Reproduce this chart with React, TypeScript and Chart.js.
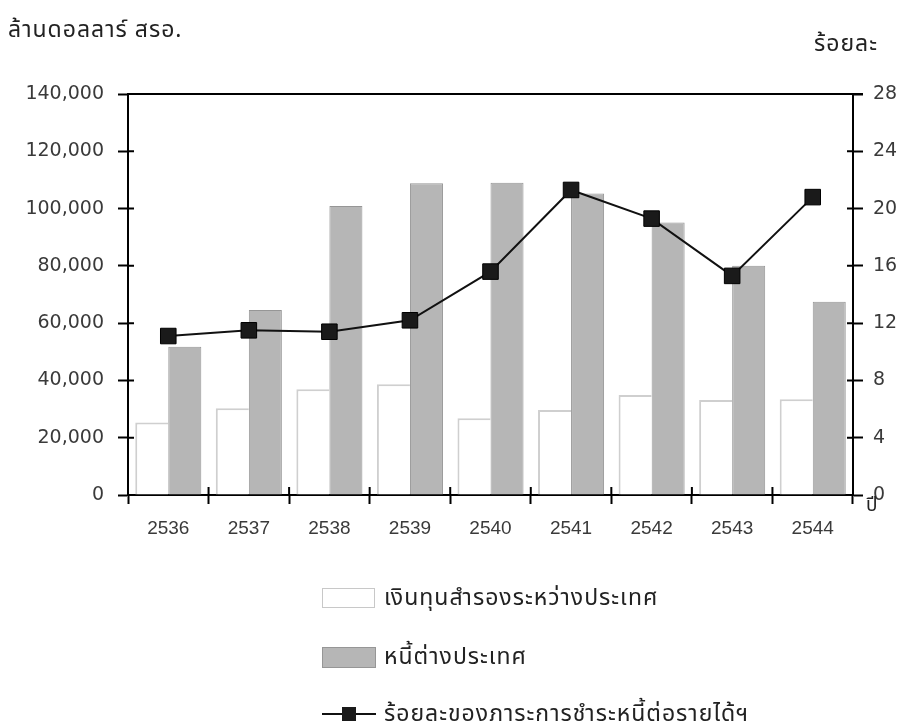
import React, { useEffect, useRef } from 'react';
import { Chart, registerables } from 'chart.js';

Chart.register(...registerables);

const years = ['2536', '2537', '2538', '2539', '2540', '2541', '2542', '2543', '2544'];
const reserves = [25300, 30300, 36900, 38700, 26800, 29700, 34900, 33200, 33400];
const debt = [51800, 64600, 100900, 108800, 109000, 105300, 95100, 80000, 67500];
const ratio = [11.1, 11.5, 11.4, 12.2, 15.6, 21.3, 19.3, 15.3, 20.8];

const leftTitle = 'ล้านดอลลาร์ สรอ.';
const rightTitle = 'ร้อยละ';
const xTitle = 'ปี';
const legendLabels = [
  'เงินทุนสำรองระหว่างประเทศ',
  'หนี้ต่างประเทศ',
  'ร้อยละของภาระการชำระหนี้ต่อรายได้ฯ',
];

const thaiFont = '"Noto Sans Thai", "Noto Sans Thai UI", Loma, Garuda, "Tlwg Typo", "DejaVu Sans", sans-serif';

const framePlugin = {
  id: 'frame',
  afterDatasetsDraw(chart: any) {
    const { ctx, chartArea } = chart;
    const { left, right, top, bottom } = chartArea;
    ctx.save();
    ctx.strokeStyle = '#000';
    ctx.lineWidth = 2;
    ctx.beginPath();
    ctx.moveTo(left, top);
    ctx.lineTo(right + 10, top);
    ctx.stroke();
    const ys = chart.scales.y;
    const y1 = chart.scales.y1;
    const xs = chart.scales.x;
    ctx.beginPath();
    ys.ticks.forEach((t: any) => {
      const p = ys.getPixelForValue(t.value);
      ctx.moveTo(left, p);
      ctx.lineTo(left + 6, p);
    });
    y1.ticks.forEach((t: any) => {
      const p = y1.getPixelForValue(t.value);
      ctx.moveTo(right - 6, p);
      ctx.lineTo(right, p);
    });
    const step = xs.getPixelForTick(1) - xs.getPixelForTick(0);
    for (let i = 0; i <= years.length; i++) {
      const p = xs.getPixelForTick(0) - step / 2 + i * step;
      ctx.moveTo(p, bottom);
      ctx.lineTo(p, bottom - 8);
    }
    ctx.stroke();
    ctx.restore();
  },
};

export default function App() {
  const ref = useRef<HTMLCanvasElement>(null);

  useEffect(() => {
    if (!ref.current) return;
    const chart = new Chart(ref.current, {
      type: 'bar',
      data: {
        labels: years,
        datasets: [
          {
            type: 'line',
            label: legendLabels[2],
            data: ratio,
            yAxisID: 'y1',
            borderColor: '#111',
            borderWidth: 2,
            pointStyle: 'rect',
            pointRadius: 11,
            pointBackgroundColor: '#1a1a1a',
            pointBorderColor: '#000',
            pointBorderWidth: 1,
            tension: 0,
            order: 0,
          } as any,
          {
            label: legendLabels[0],
            data: reserves,
            yAxisID: 'y',
            backgroundColor: '#ffffff',
            borderColor: '#cfcfcf',
            borderWidth: { top: 2, left: 2, right: 0, bottom: 0 },
            order: 1,
          },
          {
            label: legendLabels[1],
            data: debt,
            yAxisID: 'y',
            backgroundColor: '#b6b6b6',
            borderColor: '#969696',
            borderWidth: { top: 1, left: 1, right: 1, bottom: 0 },
            order: 1,
          },
        ],
      },
      options: {
        responsive: false,
        animation: false,
        layout: { padding: { top: 94, bottom: 187, left: 0, right: 0 } },
        plugins: {
          legend: { display: false },
          tooltip: { enabled: false },
          title: { display: false },
        },
        datasets: { bar: { barPercentage: 1, categoryPercentage: 0.82 } },
        scales: {
          x: {
            grid: {
              offset: true,
              drawOnChartArea: false,
              drawTicks: true,
              tickLength: 9,
              tickWidth: 2,
              tickColor: '#000',
            },
            border: { display: true, width: 2, color: '#000' },
            ticks: {
              font: { family: '"Liberation Sans", Arial', size: 19 },
              color: '#3a3a3a',
              padding: 13,
            },
            afterFit: (s: any) => {
              s.height = 45;
            },
          },
          y: {
            position: 'left',
            min: 0,
            max: 140000,
            grid: {
              drawOnChartArea: false,
              drawTicks: true,
              tickLength: 10,
              tickWidth: 2,
              tickColor: '#000',
            },
            border: { display: true, width: 2, color: '#000' },
            ticks: {
              stepSize: 20000,
              font: { family: '"DejaVu Sans"', size: 19 },
              color: '#3a3a3a',
              padding: 14,
              callback: (v: any) => Number(v).toLocaleString('en-US'),
            },
            afterFit: (s: any) => {
              s.width = 128;
            },
          },
          y1: {
            position: 'right',
            min: 0,
            max: 28,
            grid: {
              drawOnChartArea: false,
              drawTicks: true,
              tickLength: 10,
              tickWidth: 2,
              tickColor: '#000',
            },
            border: { display: true, width: 2, color: '#000' },
            ticks: {
              stepSize: 4,
              font: { family: '"DejaVu Sans"', size: 19 },
              color: '#3a3a3a',
              padding: 10,
            },
            afterFit: (s: any) => {
              s.width = 55;
            },
          },
        },
      } as any,
      plugins: [framePlugin],
    });
    return () => chart.destroy();
  }, []);

  const textStyle: React.CSSProperties = {
    position: 'absolute',
    fontFamily: thaiFont,
    fontSize: 23,
    letterSpacing: 1,
    color: '#222',
    whiteSpace: 'nowrap',
    lineHeight: '28px',
  };

  const legendTop = [584, 643, 700];

  return (
    <div style={{ position: 'fixed', left: 0, top: 0, width: 908, height: 727, background: '#fff' }}>
      <canvas ref={ref} width={908} height={727} style={{ position: 'absolute', left: 0, top: 0 }} />
      <div style={{ ...textStyle, left: 8, top: 16 }}>{leftTitle}</div>
      <div style={{ ...textStyle, left: 814, top: 30 }}>{rightTitle}</div>
      <div style={{ ...textStyle, left: 866, top: 492, fontSize: 19, letterSpacing: 0 }}>{xTitle}</div>

      <div style={{ position: 'absolute', left: 322, top: legendTop[0] + 4, width: 51, height: 18, border: '1.5px solid #c8c8c8', background: '#fff' }} />
      <div style={{ ...textStyle, left: 384, top: legendTop[0] }}>{legendLabels[0]}</div>

      <div style={{ position: 'absolute', left: 322, top: legendTop[1] + 4, width: 52, height: 19, border: '1px solid #969696', background: '#b6b6b6' }} />
      <div style={{ ...textStyle, left: 384, top: legendTop[1] }}>{legendLabels[1]}</div>

      <div style={{ position: 'absolute', left: 322, top: legendTop[2] + 13, width: 54, height: 2, background: '#111' }} />
      <div style={{ position: 'absolute', left: 342, top: legendTop[2] + 7, width: 14, height: 14, background: '#1a1a1a' }} />
      <div style={{ ...textStyle, left: 384, top: legendTop[2] }}>{legendLabels[2]}</div>
    </div>
  );
}
